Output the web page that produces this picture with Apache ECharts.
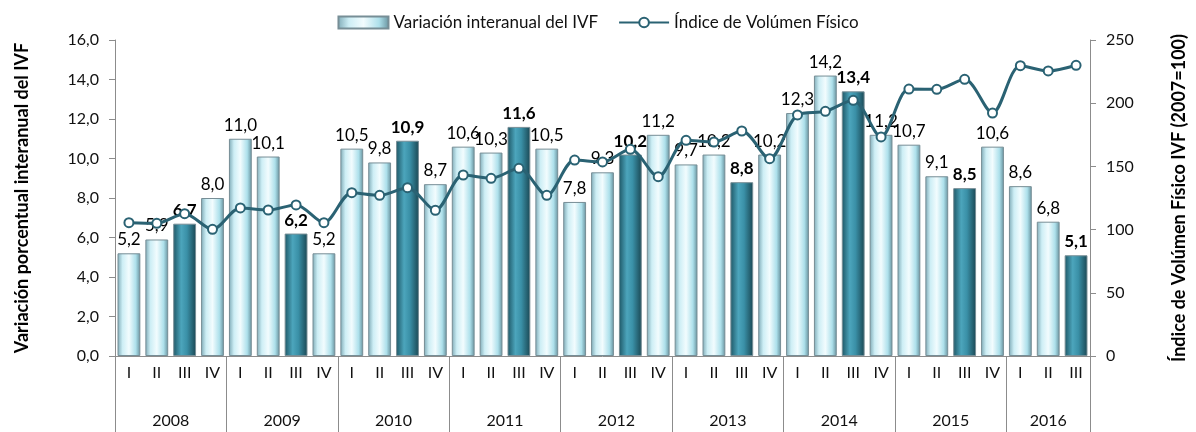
<!DOCTYPE html>
<html>
<head>
<meta charset="utf-8">
<script src="https://cdn.jsdelivr.net/npm/echarts@6/dist/echarts.min.js"></script>
<style>
  html, body { margin: 0; padding: 0; background: #fff; }
  #chart { width: 1196px; height: 432px; }
</style>
</head>
<body>
<div id="chart"></div>
<script>
  // datos
  var years = ['2008', '2009', '2010', '2011', '2012', '2013', '2014', '2015', '2016'];
  var quartersPerYear = [4, 4, 4, 4, 4, 4, 4, 4, 3];
  var quarterNames = ['I', 'II', 'III', 'IV'];
  var variacion = [
    5.2, 5.9, 6.7, 8.0,
    11.0, 10.1, 6.2, 5.2,
    10.5, 9.8, 10.9, 8.7,
    10.6, 10.3, 11.6, 10.5,
    7.8, 9.3, 10.2, 11.2,
    9.7, 10.2, 8.8, 10.2,
    12.3, 14.2, 13.4, 11.2,
    10.7, 9.1, 8.5, 10.6,
    8.6, 6.8, 5.1
  ];
  var ivf = [
    105.5, 105, 112.6, 100.2,
    117.1, 115.5, 119.5, 105.5,
    129.2, 127.1, 133.2, 115.3,
    143.2, 140.6, 148.5, 127.1,
    155, 153.5, 163.5, 141.9,
    170.6, 169.3, 178, 156.1,
    190.7, 193.6, 202.3, 173.3,
    211.2, 211, 218.9, 192.2,
    229.7, 225.5, 230
  ];
  var leftTicks = [0, 2, 4, 6, 8, 10, 12, 14, 16];
  var rightTicks = [0, 50, 100, 150, 200, 250];
  var highlightQuarter = 'III';

  var quarters = [];
  var yearBounds = [0];
  var yearMids = [];
  quartersPerYear.forEach(function (n) {
    var start = yearBounds[yearBounds.length - 1];
    for (var i = 0; i < n; i++) quarters.push(quarterNames[i]);
    yearBounds.push(start + n);
    yearMids.push(start + n / 2);
  });

  var font = 'Lato, "Open Sans", sans-serif';
  var axisGrey = '#8c8c8c';
  var lineColor = '#2a6273';

  var lightBar = new echarts.graphic.LinearGradient(0, 0, 1, 0, [
    {offset: 0, color: '#7eaab6'},
    {offset: 0.22, color: '#cdeef5'},
    {offset: 0.5, color: '#f2fcfe'},
    {offset: 0.8, color: '#ade0eb'},
    {offset: 1, color: '#66909c'}
  ]);
  var darkBar = new echarts.graphic.LinearGradient(0, 0, 1, 0, [
    {offset: 0, color: '#1d5665'},
    {offset: 0.35, color: '#4ca5bc'},
    {offset: 0.6, color: '#3a90a7'},
    {offset: 1, color: '#1a4753'}
  ]);

  var fmt = function (v) { return v.toFixed(1).replace('.', ','); };

  var barData = variacion.map(function (v, i) {
    var hi = quarters[i] === highlightQuarter;
    return {
      value: v,
      itemStyle: {color: hi ? darkBar : lightBar},
      label: {fontWeight: hi ? 'bold' : 'normal'}
    };
  });

  var chart = echarts.init(document.getElementById('chart'));
  chart.setOption({
    animation: false,
    textStyle: {fontFamily: font},
    legend: {
      top: 9,
      left: 'center',
      itemWidth: 50,
      itemHeight: 12,
      itemGap: 20,
      textStyle: {fontSize: 17, color: '#111', fontFamily: font},
      data: [
        {name: 'Variación interanual del IVF', icon: 'rect'},
        {name: 'Índice de Volúmen Físico'}
      ]
    },
    grid: {left: 115, right: 95, top: 40, bottom: 76},
    xAxis: [
      {
        type: 'category',
        data: quarters,
        axisLine: {lineStyle: {color: axisGrey}},
        axisTick: {length: 38, lineStyle: {color: axisGrey}},
        axisLabel: {color: '#111', fontSize: 16, margin: 9, fontFamily: font}
      },
      {
        type: 'value',
        position: 'bottom',
        min: 0,
        max: yearBounds[yearBounds.length - 1],
        axisLine: {show: false},
        splitLine: {show: false},
        axisTick: {show: true, length: 76, customValues: yearBounds, lineStyle: {color: axisGrey}},
        axisLabel: {
          customValues: yearMids,
          margin: 57,
          fontSize: 16,
          color: '#111',
          fontFamily: font,
          formatter: function (v) { return years[yearMids.indexOf(v)]; }
        }
      }
    ],
    yAxis: [
      {
        type: 'value',
        min: leftTicks[0],
        max: leftTicks[leftTicks.length - 1],
        interval: leftTicks[1] - leftTicks[0],
        name: 'Variación porcentual interanual del IVF',
        nameLocation: 'middle',
        nameGap: 84,
        nameTextStyle: {fontSize: 18, fontWeight: 'bold', color: '#000', fontFamily: font},
        axisLine: {show: true, lineStyle: {color: axisGrey}},
        axisTick: {show: true, length: 6, lineStyle: {color: axisGrey}},
        splitLine: {show: false},
        axisLabel: {fontSize: 16, color: '#111', margin: 16, formatter: fmt, fontFamily: font}
      },
      {
        type: 'value',
        min: rightTicks[0],
        max: rightTicks[rightTicks.length - 1],
        interval: rightTicks[1] - rightTicks[0],
        name: 'Índice de Volúmen Físico IVF (2007=100)',
        nameLocation: 'middle',
        nameGap: 80,
        nameRotate: 90,
        nameTextStyle: {fontSize: 18, fontWeight: 'bold', color: '#000', fontFamily: font},
        axisLine: {show: true, lineStyle: {color: axisGrey}},
        axisTick: {show: true, length: 6, lineStyle: {color: axisGrey}},
        splitLine: {show: false},
        axisLabel: {fontSize: 16, color: '#111', margin: 16, fontFamily: font}
      }
    ],
    series: [
      {
        name: 'Variación interanual del IVF',
        type: 'bar',
        xAxisIndex: 0,
        yAxisIndex: 0,
        barCategoryGap: '18%',
        itemStyle: {color: lightBar, borderColor: '#778e96', borderWidth: 1},
        label: {
          show: true,
          position: 'top',
          distance: 5,
          fontSize: 17,
          color: '#000',
          fontFamily: font,
          formatter: function (p) { return fmt(p.value); }
        },
        data: barData,
        z: 2
      },
      {
        name: 'Índice de Volúmen Físico',
        type: 'line',
        xAxisIndex: 0,
        yAxisIndex: 1,
        smooth: 0.3,
        symbol: 'circle',
        symbolSize: 9,
        lineStyle: {color: lineColor, width: 3},
        itemStyle: {color: '#fff', borderColor: lineColor, borderWidth: 2},
        data: ivf,
        z: 5
      }
    ]
  });
</script>
</body>
</html>
